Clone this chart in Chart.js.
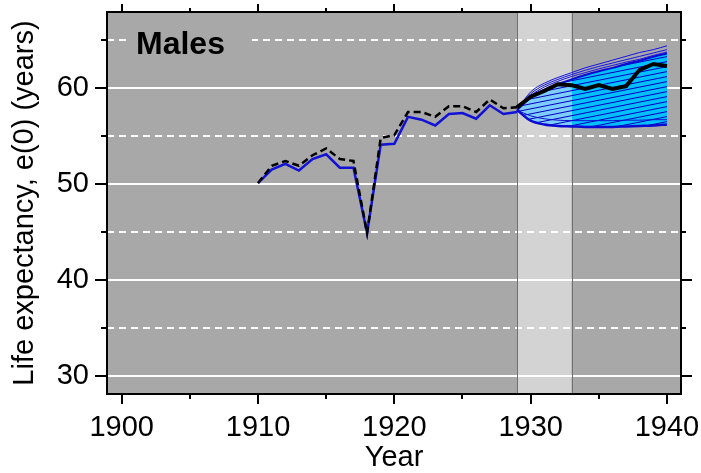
<!DOCTYPE html>
<html><head><meta charset="utf-8">
<script src="https://cdn.jsdelivr.net/npm/chart.js@4.4.1/dist/chart.umd.min.js"></script>
<style>html,body{margin:0;padding:0;background:#fff}#wrap{width:701px;height:473px}</style>
</head><body><div id="wrap"><canvas id="c" width="701" height="473"></canvas></div>
<script>
// ---------- data ----------
const obsYears = [1910,1911,1912,1913,1914,1915,1916,1917,1918,1919,1920,1921,1922,1923,1924,1925,1926,1927,1928,1929];
const blueObserved = [50.1,51.5,52.1,51.4,52.6,53.1,51.7,51.7,44.9,54.1,54.2,57.0,56.7,56.1,57.3,57.4,56.8,58.2,57.3,57.5];
const allYears = [1910,1911,1912,1913,1914,1915,1916,1917,1918,1919,1920,1921,1922,1923,1924,1925,1926,1927,1928,1929,1930,1931,1932,1933,1934,1935,1936,1937,1938,1939,1940];
const blackActual = [50.1,51.9,52.4,51.9,53.0,53.7,52.6,52.4,44.9,54.8,55.1,57.5,57.5,57.0,58.1,58.1,57.5,58.8,57.9,58.0,59.1,59.7,60.4,60.3,59.9,60.3,59.9,60.2,61.9,62.5,62.3];
const fcYears = [1929,1930,1931,1932,1933,1934,1935,1936,1937,1938,1939,1940];
const fanTop    = [57.7,59.0,59.8,60.4,60.9,61.35,61.75,62.1,62.5,62.85,63.25,63.6];
const fanBottom = [57.7,56.6,56.2,56.05,56.0,55.95,55.95,55.95,56.0,56.05,56.1,56.2];
const lowerInner= [57.7,57.1,56.8,56.65,56.6,56.6,56.6,56.6,56.65,56.65,56.7,56.7];
const upperA    = [57.7,59.6,60.5,61.1,61.6,62.1,62.5,62.9,63.3,63.7,64.0,64.4];
const upperB    = [57.7,59.4,60.3,60.9,61.4,61.85,62.25,62.6,62.95,63.3,63.65,64.0];
const upperC    = [57.7,59.2,60.1,60.7,61.2,61.6,62.0,62.35,62.7,63.0,63.4,63.75];
const bandStart = 1929, bandEnd = 1933;
const xMajorTicks = [1900,1910,1920,1930,1940];
const xMinorTicks = [1905,1915,1925,1935];
const yMajorTicks = [30,40,50,60];
const yMinorTicks = [35,45,55,65];
const panelLabel = 'Males';
const xTitle = 'Year';
const yTitle = 'Life expectancy, e(0) (years)';

// ---------- helpers ----------
const xy = (xs, ys) => xs.map((x,i)=>({x, y: ys[i]}));
const FONT = '"Liberation Sans", Arial, sans-serif';
function hatchPattern(){
  const c = document.createElement('canvas'); c.width = 25; c.height = 5;
  const g = c.getContext('2d');
  g.strokeStyle = 'rgb(0,0,190)'; g.lineWidth = 1;
  for (let k=-1;k<=1;k++){ g.beginPath(); g.moveTo(0,5+k*5); g.lineTo(25,k*5); g.stroke(); }
  return g.createPattern(c,'repeat');
}
const hatch = hatchPattern();
function fanFill(ctx){
  const chart = ctx.chart, a = chart.chartArea;
  if (!a) return 'rgb(0,191,255)';
  const xb = chart.scales.x.getPixelForValue(bandEnd);
  const f = Math.min(1, Math.max(0, (xb - a.left)/(a.right - a.left)));
  const g = chart.ctx.createLinearGradient(a.left,0,a.right,0);
  g.addColorStop(0,'rgb(125,205,255)'); g.addColorStop(f,'rgb(125,205,255)');
  g.addColorStop(f,'rgb(0,191,255)'); g.addColorStop(1,'rgb(0,191,255)');
  return g;
}

const decor = {
  id: 'decor',
  beforeDatasetsDraw(chart){
    const {ctx, chartArea:a, scales:{x,y}} = chart;
    ctx.save();
    ctx.fillStyle = '#a8a8a8'; ctx.fillRect(a.left,a.top,a.right-a.left,a.bottom-a.top);
    const b0 = x.getPixelForValue(bandStart), b1 = x.getPixelForValue(bandEnd);
    ctx.fillStyle = '#d3d3d3'; ctx.fillRect(b0,a.top,b1-b0,a.bottom-a.top);
    ctx.strokeStyle = '#ffffff'; ctx.lineWidth = 2;
    for (const v of yMajorTicks){ const p = Math.round(y.getPixelForValue(v)); ctx.beginPath(); ctx.moveTo(a.left,p); ctx.lineTo(a.right,p); ctx.stroke(); }
    ctx.setLineDash([7,5]);
    for (const v of yMinorTicks){ const p = Math.round(y.getPixelForValue(v)); ctx.beginPath(); ctx.moveTo(a.left,p); ctx.lineTo(a.right,p); ctx.stroke(); }
    ctx.setLineDash([]);
    ctx.strokeStyle = '#707070'; ctx.lineWidth = 1;
    for (const p of [b0,b1]){ ctx.beginPath(); ctx.moveTo(Math.round(p)+0.5,a.top); ctx.lineTo(Math.round(p)+0.5,a.bottom); ctx.stroke(); }
    // panel label with background box
    ctx.fillStyle = '#a8a8a8'; ctx.fillRect(a.left+20, a.top+14, 125, 36);
    ctx.fillStyle = '#000'; ctx.font = 'bold 32px ' + FONT; ctx.textBaseline = 'alphabetic'; ctx.textAlign = 'left';
    ctx.fillText(panelLabel, a.left+29, a.top+42);
    ctx.restore();
  },
  afterDatasetsDraw(chart){
    const {ctx, chartArea:a, scales:{x,y}} = chart;
    ctx.save();
    ctx.strokeStyle = '#000'; ctx.lineWidth = 2;
    ctx.strokeRect(a.left, a.top, a.right-a.left, a.bottom-a.top);
    const tick = (x1,y1,x2,y2)=>{ctx.beginPath();ctx.moveTo(x1,y1);ctx.lineTo(x2,y2);ctx.stroke();};
    for (const v of xMajorTicks){ const p = Math.round(x.getPixelForValue(v)); tick(p,a.bottom,p,a.bottom+10); tick(p,a.top,p,a.top-8); }
    for (const v of xMinorTicks){ const p = Math.round(x.getPixelForValue(v)); tick(p,a.bottom,p,a.bottom+5); tick(p,a.top,p,a.top-4); }
    for (const v of yMajorTicks){ const p = Math.round(y.getPixelForValue(v)); tick(a.left,p,a.left-12,p); tick(a.right,p,a.right+11,p); }
    for (const v of yMinorTicks){ const p = Math.round(y.getPixelForValue(v)); tick(a.left,p,a.left-6,p); tick(a.right,p,a.right+5,p); }
    ctx.restore();
  },
  afterDraw(chart){
    const {ctx, chartArea:a} = chart;
    ctx.save();
    ctx.fillStyle = '#000'; ctx.font = '29px ' + FONT;
    ctx.textAlign = 'center'; ctx.textBaseline = 'alphabetic';
    ctx.fillText(xTitle, (a.left+a.right)/2, 466);
    ctx.translate(33, (a.top+a.bottom)/2); ctx.rotate(-Math.PI/2);
    ctx.fillText(yTitle, 0, 0);
    ctx.restore();
  }
};

const thin = {pointRadius:0, fill:false, cubicInterpolationMode:'monotone'};
const datasets = [
  {data: xy(fcYears, fanTop), borderWidth:0, pointRadius:0, fill:{target:2}, backgroundColor: fanFill, cubicInterpolationMode:'monotone', order:20},
  {data: xy(fcYears, fanTop), borderWidth:0, pointRadius:0, fill:{target:2}, backgroundColor: hatch, cubicInterpolationMode:'monotone', order:19},
  {data: xy(fcYears, fanBottom), borderColor:'#0a0ad2', borderWidth:2.5, ...thin, order:8},
  {data: xy(fcYears, lowerInner), borderColor:'#1010d0', borderWidth:1, ...thin, order:9},
  {data: xy(fcYears, upperA), borderColor:'#1414e6', borderWidth:1, ...thin, order:9},
  {data: xy(fcYears, upperB), borderColor:'#1414e6', borderWidth:1, ...thin, order:9},
  {data: xy(fcYears, upperC), borderColor:'#1414e6', borderWidth:1, ...thin, order:9},
  {data: xy(fcYears, fanTop), borderColor:'#0a0ad2', borderWidth:2, ...thin, order:8},
  {data: xy(obsYears, blueObserved), borderColor:'#1212d6', borderWidth:2.5, pointRadius:0, fill:false, tension:0, order:3},
  {data: xy(allYears, blackActual).filter(p=>p.x<=bandStart), borderColor:'#000', borderWidth:2.5, borderDash:[7,4], pointRadius:0, fill:false, tension:0, order:2},
  {data: xy(allYears, blackActual).filter(p=>p.x>=bandStart), borderColor:'#000', borderWidth:4, pointRadius:0, fill:false, tension:0, order:1}
];

new Chart(document.getElementById('c'), {
  type: 'line',
  data: {datasets},
  options: {
    responsive:false, animation:false, devicePixelRatio:1,
    layout:{padding:{top:12, right:20, left:0, bottom:0}},
    plugins:{legend:{display:false}, tooltip:{enabled:false}},
    scales:{
      x:{type:'linear', min:1898.92, max:1941.03,
         afterBuildTicks: s => { s.ticks = xMajorTicks.map(v=>({value:v})); },
         afterFit: s => { s.height = 79; s.paddingLeft = 0; s.paddingRight = 0; },
         grid:{display:false, drawTicks:false}, border:{display:false},
         ticks:{callback:v=>String(v), color:'#000', font:{family:FONT, size:29}, padding:17, maxRotation:0, autoSkip:false}},
      y:{type:'linear', min:28.125, max:67.92,
         afterBuildTicks: s => { s.ticks = yMajorTicks.map(v=>({value:v})); },
         afterFit: s => { s.width = 107; s.paddingTop = 0; s.paddingBottom = 0; },
         grid:{display:false, drawTicks:false}, border:{display:false},
         ticks:{callback:v=>String(v), color:'#000', font:{family:FONT, size:29}, padding:18}}
    }
  },
  plugins:[decor]
});
</script></body></html>
